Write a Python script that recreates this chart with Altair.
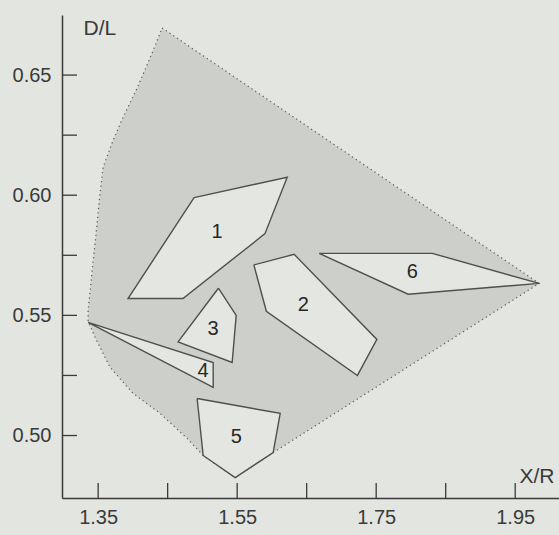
import altair as alt
import pandas as pd

# Region outlines in (X/R, D/L) coordinates
HULL_X = [1.442, 1.9845, 1.6018, 1.5471, 1.5011, 1.478, 1.4392, 1.4004, 1.3673, 1.3457,
          1.3356, 1.3356, 1.3414, 1.3471, 1.3514, 1.3572, 1.3716, 1.386, 1.4061, 1.4277]
HULL_Y = [0.6696, 0.5633, 0.4929, 0.4825, 0.4917, 0.4988, 0.5092, 0.5175, 0.5283, 0.5408,
          0.5475, 0.5521, 0.5688, 0.5842, 0.5971, 0.6117, 0.6229, 0.6325, 0.6446, 0.6592]

P1_X = [1.488, 1.622, 1.590, 1.472, 1.393]
P1_Y = [0.599, 0.6075, 0.584, 0.557, 0.557]
P2_X = [1.574, 1.632, 1.751, 1.723, 1.592]
P2_Y = [0.571, 0.5754, 0.540, 0.525, 0.5517]
P3_X = [1.523, 1.5486, 1.5428, 1.465]
P3_Y = [0.5613, 0.550, 0.5304, 0.539]
P4_X = [1.3356, 1.5155, 1.5155]
P4_Y = [0.5471, 0.5304, 0.520]
P5_X = [1.4924, 1.6119, 1.6018, 1.5471, 1.5011]
P5_Y = [0.5154, 0.5092, 0.4929, 0.4825, 0.4917]
P6_X = [1.668, 1.8306, 1.9845, 1.796]
P6_Y = [0.5758, 0.5758, 0.5633, 0.5588]

LABELS = ["1", "2", "3", "4", "5", "6"]
LABEL_X = [1.5212, 1.645, 1.5155, 1.501, 1.5486, 1.8018]
LABEL_Y = [0.5846, 0.5542, 0.5442, 0.5267, 0.4992, 0.5679]

X_TICKS = [1.35, 1.45, 1.55, 1.65, 1.75, 1.85, 1.95]
X_LABELS = [1.35, 1.55, 1.75, 1.95]
Y_TICKS = [0.50, 0.525, 0.55, 0.575, 0.60, 0.625, 0.65]
Y_LABELS = [0.50, 0.55, 0.60, 0.65]

X_DOMAIN = [1.298, 2.013]
Y_DOMAIN = [0.474, 0.675]

W, H = 497, 483
BG = "#e3e5e1"
HULL_FILL = "#cdcfcb"
POLY_FILL = "#e4e6e2"
INK = "#3a3a3a"
FONT = "Liberation Sans"


def closed(name, xs, ys):
    rows = [{"id": name, "i": k, "x": x, "y": y} for k, (x, y) in enumerate(zip(xs, ys))]
    rows.append({"id": name, "i": len(xs), "x": xs[0], "y": ys[0]})
    return rows


hull_df = pd.DataFrame(closed("hull", HULL_X, HULL_Y))
poly_rows = []
for name, xs, ys in [("1", P1_X, P1_Y), ("2", P2_X, P2_Y), ("3", P3_X, P3_Y),
                     ("4", P4_X, P4_Y), ("5", P5_X, P5_Y), ("6", P6_X, P6_Y)]:
    poly_rows += closed(name, xs, ys)
poly_df = pd.DataFrame(poly_rows)
label_df = pd.DataFrame({"t": LABELS, "x": LABEL_X, "y": LABEL_Y})
xt_df = pd.DataFrame({"x": X_TICKS})
yt_df = pd.DataFrame({"y": Y_TICKS})

xs = alt.Scale(domain=X_DOMAIN, nice=False, zero=False)
ys = alt.Scale(domain=Y_DOMAIN, nice=False, zero=False)

x_axis = alt.Axis(values=X_LABELS, format=".2f", ticks=False, tickSize=0, grid=False,
                  domainColor=INK, domainWidth=1.5, labelFont=FONT, labelFontSize=20,
                  labelColor=INK, labelPadding=9, labelFlush=False,
                  title="X/R", titleFont=FONT, titleFontSize=21, titleFontWeight="normal",
                  titleColor=INK, titleX=457, titleY=-16, titleAlign="left",
                  titleBaseline="alphabetic", titleAngle=0)
y_axis = alt.Axis(values=Y_LABELS, format=".2f", ticks=False, tickSize=0, grid=False,
                  domainColor=INK, domainWidth=1.5, labelFont=FONT, labelFontSize=20,
                  labelColor=INK, labelPadding=11, labelFlush=False,
                  title="D/L", titleFont=FONT, titleFontSize=21, titleFontWeight="normal",
                  titleColor=INK, titleX=21, titleY=19, titleAlign="left",
                  titleBaseline="alphabetic", titleAngle=0)

X = alt.X("x:Q", scale=xs, axis=x_axis)
Y = alt.Y("y:Q", scale=ys, axis=y_axis)

hull = alt.Chart(hull_df).mark_line(
    fill=HULL_FILL, stroke="#606060", strokeWidth=1.3, strokeDash=[1.2, 3.3]
).encode(x=X, y=Y, order="i:Q")

polys = alt.Chart(poly_df).mark_line(
    fill=POLY_FILL, stroke="#4f4f4f", strokeWidth=1.4, strokeJoin="miter"
).encode(x=X, y=Y, detail="id:N", order="i:Q")

labels = alt.Chart(label_df).mark_text(
    font=FONT, fontSize=20, color="#262626", baseline="middle", align="center"
).encode(x=X, y=Y, text="t:N")

# inward-pointing tick marks along both axes
x_ticks = alt.Chart(xt_df).mark_rule(color=INK, strokeWidth=1.3).encode(
    x=X, y=alt.value(H), y2=alt.value(H - 15),
)
y_ticks = alt.Chart(yt_df).mark_rule(color=INK, strokeWidth=1.3).encode(
    y=Y, x=alt.value(0), x2=alt.value(15),
)

chart = alt.layer(hull, polys, labels, x_ticks, y_ticks).properties(
    width=W,
    height=H,
    autosize=alt.AutoSizeParams(type="none"),
    padding={"left": 62, "top": 15, "right": 0, "bottom": 37},
    background=BG,
).configure_view(stroke=None)

chart.save("out.html", embed_options={"renderer": "svg", "actions": False})
